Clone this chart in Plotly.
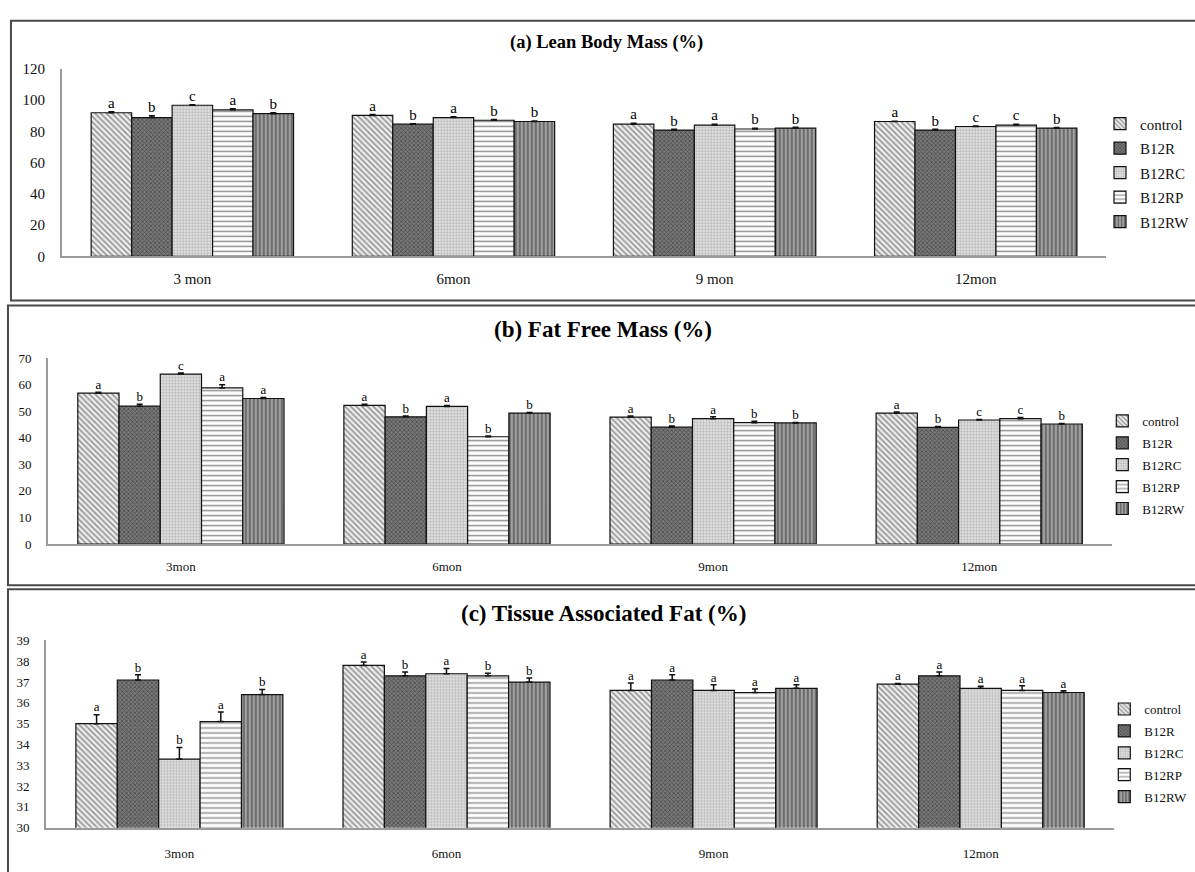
import plotly.graph_objects as go

W, H = 1195, 872

groups = ["control", "B12R", "B12RC", "B12RP", "B12RW"]
months_a = ["3 mon", "6mon", "9 mon", "12mon"]
months_bc = ["3mon", "6mon", "9mon", "12mon"]

# (a) Lean Body Mass (%) -- rows follow `groups`, columns follow months
lbm_values = [
    [91.9, 90.2, 84.6, 86.3],
    [88.8, 84.6, 80.8, 80.8],
    [96.7, 88.8, 84.0, 83.1],
    [93.8, 87.1, 81.5, 84.0],
    [91.3, 86.3, 82.1, 82.1],
]
lbm_err = [
    [0.6, 0.6, 0.6, 0.2],
    [1.2, 0.3, 0.5, 0.5],
    [0.3, 0.6, 0.6, 0.3],
    [0.6, 0.5, 0.5, 0.6],
    [0.6, 0.3, 0.5, 0.3],
]
lbm_letters = [
    ["a", "a", "a", "a"],
    ["b", "b", "b", "b"],
    ["c", "a", "a", "c"],
    ["a", "b", "b", "c"],
    ["b", "b", "b", "b"],
]

# (b) Fat Free Mass (%)
ffm_values = [
    [56.8, 52.2, 47.8, 49.3],
    [51.9, 47.9, 44.0, 43.9],
    [64.0, 51.8, 47.2, 46.7],
    [58.8, 40.4, 45.7, 47.2],
    [54.8, 49.3, 45.6, 45.2],
]
ffm_err = [
    [0.4, 0.4, 0.4, 0.4],
    [0.7, 0.3, 0.4, 0.4],
    [0.4, 0.4, 0.7, 0.2],
    [1.2, 0.3, 0.5, 0.4],
    [0.4, 0.2, 0.2, 0.2],
]
ffm_letters = [
    ["a", "a", "a", "a"],
    ["b", "b", "b", "b"],
    ["c", "a", "a", "c"],
    ["a", "b", "b", "c"],
    ["a", "b", "b", "b"],
]

# (c) Tissue Associated Fat (%)
taf_values = [
    [35.0, 37.8, 36.6, 36.9],
    [37.1, 37.3, 37.1, 37.3],
    [33.3, 37.4, 36.6, 36.7],
    [35.1, 37.3, 36.5, 36.6],
    [36.4, 37.0, 36.7, 36.5],
]
taf_err = [
    [0.43, 0.16, 0.35, 0.03],
    [0.25, 0.19, 0.25, 0.19],
    [0.55, 0.25, 0.27, 0.10],
    [0.46, 0.13, 0.17, 0.22],
    [0.24, 0.20, 0.17, 0.08],
]
taf_letters = [
    ["a", "a", "a", "a"],
    ["b", "b", "a", "a"],
    ["b", "a", "a", "a"],
    ["a", "b", "a", "a"],
    ["b", "b", "a", "a"],
]

patterns = [
    dict(shape="\\", size=4, solidity=0.4, fgcolor="#3a3a3a", bgcolor="#eeeeee"),
    dict(shape="x", size=3, solidity=0.45, fgcolor="#222222", bgcolor="#787878"),
    dict(shape="+", size=3, solidity=0.35, fgcolor="#8c8c8c", bgcolor="#dedede"),
    dict(shape="-", size=5, solidity=0.3, fgcolor="#222222", bgcolor="#ffffff"),
    dict(shape="|", size=4, solidity=0.45, fgcolor="#2e2e2e", bgcolor="#a0a0a0"),
]

SERIF = "Liberation Serif"

panels = [
    dict(months=months_a, vals=lbm_values, err=lbm_err, let=lbm_letters,
         xa="x", ya="y", legend="legend", fs=15),
    dict(months=months_bc, vals=ffm_values, err=ffm_err, let=ffm_letters,
         xa="x2", ya="y2", legend="legend2", fs=13),
    dict(months=months_bc, vals=taf_values, err=taf_err, let=taf_letters,
         xa="x3", ya="y3", legend="legend3", fs=13),
]

fig = go.Figure()
for p in panels:
    for i, g in enumerate(groups):
        fig.add_trace(go.Bar(
            x=p["months"], y=p["vals"][i], name=g,
            xaxis=p["xa"], yaxis=p["ya"], legend=p["legend"], legendgroup=p["legend"] + g,
            marker=dict(pattern=patterns[i], line=dict(color="#111111", width=1.2)),
            error_y=dict(type="data", array=p["err"][i], symmetric=False,
                         arrayminus=[0] * len(p["err"][i]),
                         color="#111111", thickness=1.5, width=3),
        ))
    for i, g in enumerate(groups):
        fig.add_trace(go.Scatter(
            x=p["months"], y=[v + e for v, e in zip(p["vals"][i], p["err"][i])],
            mode="text", text=p["let"][i], textposition="top center",
            textfont=dict(family=SERIF, size=p["fs"], color="black"),
            xaxis=p["xa"], yaxis=p["ya"], showlegend=False, name=g,
            cliponaxis=False, hoverinfo="skip",
        ))

def px_x(v):
    return v / W

def px_y(v):
    return 1 - v / H

axis_common = dict(showgrid=False, zeroline=False, showline=True, linecolor="#9a9a9a",
                   ticks="", tickfont=dict(family=SERIF, color="#111111"))

def legend_cfg(x, y, size):
    return dict(x=px_x(x), y=px_y(y), xanchor="left", yanchor="middle",
                font=dict(family=SERIF, size=size, color="#111111"),
                tracegroupgap=2, bgcolor="rgba(0,0,0,0)", itemwidth=30)

fig.update_layout(
    width=W, height=H,
    margin=dict(l=0, r=0, t=0, b=0),
    paper_bgcolor="white", plot_bgcolor="white",
    barmode="group", bargap=0.225, bargroupgap=0,
    scattermode="group", scattergap=0.225,
    font=dict(family=SERIF, color="#111111"),
    xaxis=dict(**axis_common, domain=[px_x(62), px_x(1110)], anchor="y",
               linewidth=2, ticklabelstandoff=8, tickfont_size=15),
    yaxis=dict(**axis_common, domain=[px_y(253), px_y(62)], anchor="x",
               range=[0, 120], dtick=20, linewidth=1.5, ticklabelstandoff=12, tickfont_size=15),
    xaxis2=dict(**axis_common, domain=[px_x(48), px_x(1116)], anchor="y2",
                linewidth=2, ticklabelstandoff=9, tickfont_size=13),
    yaxis2=dict(**axis_common, domain=[px_y(546), px_y(356.7)], anchor="x2",
                range=[0, 70], dtick=10, linewidth=1.5, ticklabelstandoff=12, tickfont_size=13),
    xaxis3=dict(**axis_common, domain=[px_x(46), px_x(1118)], anchor="y3",
                linewidth=2, ticklabelstandoff=13, tickfont_size=13),
    yaxis3=dict(**axis_common, domain=[px_y(835), px_y(644.3)], anchor="x3",
                range=[30, 39], dtick=1, linewidth=1.5, ticklabelstandoff=12, tickfont_size=13),
    legend=legend_cfg(1104, 168, 15),
    legend2=legend_cfg(1106, 465.5, 13),
    legend3=legend_cfg(1108, 759, 13),
    showlegend=True,
)

titles = [
    ("(a) Lean Body Mass (%)", 609, 35, 18.5),
    ("(b) Fat Free Mass (%)", 605, 327, 23),
    ("(c) Tissue Associated Fat (%)", 605.5, 617, 23),
]
for t, cx, cy, fsz in titles:
    fig.add_annotation(text="<b>" + t + "</b>", x=px_x(cx), y=px_y(cy), xref="paper", yref="paper",
                       xanchor="center", yanchor="middle", showarrow=False,
                       font=dict(family=SERIF, size=fsz, color="#000000"))

borders = [(11, 13, 1205, 298), (8, 303, 1205, 588), (8, 592, 1205, 885)]
for x0, y0, x1, y1 in borders:
    fig.add_shape(type="rect", xref="paper", yref="paper",
                  x0=px_x(x0), x1=px_x(x1), y0=px_y(y1), y1=px_y(y0),
                  line=dict(color="#4a4a4a", width=2), fillcolor="rgba(0,0,0,0)")

fig.write_html("out.html", config={"displayModeBar": False},
               post_script="document.body.style.margin='0';document.body.style.overflow='hidden';")
